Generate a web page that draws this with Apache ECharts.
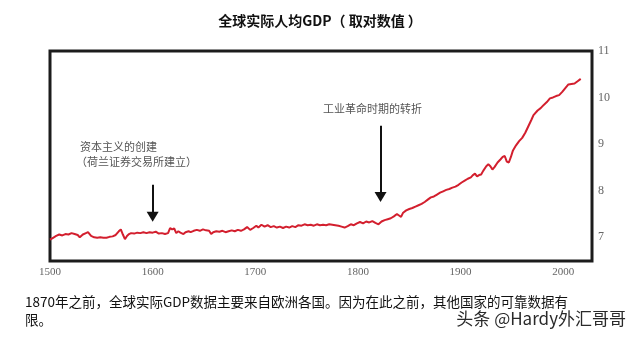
<!DOCTYPE html>
<html>
<head>
<meta charset="utf-8">
<script src="https://cdn.jsdelivr.net/npm/echarts@6/dist/echarts.min.js"></script>
<style>
  html, body { margin: 0; padding: 0; background: #fff; }
  #chart { width: 640px; height: 338px; }
</style>
</head>
<body>
<div id="chart"></div>
<script>
// Year of each observation
const years = [
  1500,1503,1506,1509,1512,1515,1518,1521,1524,1527,1529,1532,1535,1537,1540,1543,1546,1549,
  1552,1555,1558,1561,1564,1567,1569,1571,1573,1575,1577,1579,1582,1585,1588,1591,1594,1597,
  1600,1603,1606,1609,1612,1615,1617,1619,1621,1623,1625,1627,1630,1632,1635,1637,1640,1643,
  1646,1649,1652,1655,1657,1659,1662,1665,1668,1671,1674,1677,1680,1683,1686,1689,1692,1695,
  1698,1701,1703,1706,1709,1712,1715,1718,1721,1724,1727,1730,1733,1736,1739,1742,1745,1748,
  1751,1754,1757,1760,1763,1766,1769,1772,1775,1778,1781,1784,1787,1790,1793,1796,1799,1802,
  1805,1808,1811,1814,1817,1820,1823,1826,1829,1832,1835,1838,1840,1842,1844,1847,1850,1853,
  1856,1859,1862,1865,1868,1871,1874,1877,1880,1883,1886,1889,1892,1895,1898,1901,1904,1907,
  1910,1912,1914,1916,1918,1920,1922,1925,1927,1929,1931,1933,1936,1939,1941,1943,1945,1947,
  1949,1951,1954,1957,1960,1963,1966,1969,1971,1975,1978,1981,1984,1987,1990,1993,1996,1999,
  2002,2005,2008,2011,2014,2017
];

// Log of world real GDP per capita
const logGdp = [
  6.94,6.98,7.02,7.05,7.03,7.06,7.05,7.08,7.06,7.04,6.99,7.05,7.08,7.10,7.02,6.99,6.98,6.99,
  6.98,6.98,7.00,7.01,7.04,7.12,7.16,7.05,6.95,7.02,7.06,7.08,7.07,7.09,7.08,7.10,7.08,7.10,
  7.09,7.11,7.07,7.08,7.06,7.08,7.19,7.16,7.18,7.08,7.12,7.09,7.06,7.10,7.12,7.10,7.13,7.15,
  7.13,7.16,7.14,7.13,7.06,7.10,7.12,7.11,7.13,7.10,7.12,7.14,7.12,7.15,7.13,7.16,7.21,7.15,
  7.19,7.24,7.20,7.26,7.22,7.25,7.21,7.23,7.20,7.22,7.19,7.22,7.20,7.23,7.21,7.25,7.24,7.27,
  7.25,7.26,7.24,7.27,7.25,7.26,7.25,7.27,7.26,7.25,7.24,7.22,7.20,7.23,7.27,7.25,7.29,7.32,
  7.29,7.33,7.31,7.34,7.30,7.27,7.33,7.36,7.38,7.40,7.44,7.49,7.46,7.43,7.52,7.57,7.60,7.62,
  7.65,7.68,7.71,7.75,7.80,7.85,7.87,7.91,7.95,7.98,8.01,8.03,8.06,8.08,8.12,8.17,8.21,8.25,
  8.28,8.33,8.36,8.30,8.33,8.34,8.42,8.52,8.56,8.52,8.45,8.50,8.60,8.67,8.72,8.74,8.62,8.60,
  8.72,8.86,8.97,9.06,9.13,9.24,9.38,9.52,9.62,9.72,9.77,9.84,9.90,9.98,10.00,10.03,10.05,10.12,
  10.20,10.28,10.29,10.30,10.35,10.40
];

// Axis tick labels
const xTicks = [1500, 1600, 1700, 1800, 1900, 2000];
const yTicks = [7, 8, 9, 10, 11];

// Annotation arrows: [year, start value, arrowhead value]
const arrows = [
  [1600, 8.12, 7.43],
  [1822, 9.39, 7.86]
];

const seriesData = years.map((y, i) => [y, logGdp[i]]);

const chart = echarts.init(document.getElementById('chart'), null, { renderer: 'canvas' });

const serif = '"Liberation Serif", "DejaVu Serif", serif';
const cjk = '"Noto Sans CJK SC", "Noto Sans", sans-serif';

chart.setOption({
  animation: false,
  backgroundColor: '#ffffff',
  title: {
    text: '全球实际人均GDP（ 取对数值 ）',
    left: 'center',
    top: 9,
    textStyle: { fontFamily: cjk, fontSize: 14, fontWeight: 'bold', color: '#111' }
  },
  grid: {
    left: 50, right: 48, top: 51, bottom: 77,
    show: true,
    borderColor: '#1c1c1c',
    borderWidth: 3,
    backgroundColor: '#ffffff'
  },
  xAxis: {
    type: 'value',
    min: 1500,
    max: 2028,
    interval: 100,
    axisLine: { show: false },
    axisTick: { show: false },
    splitLine: { show: false },
    axisLabel: {
      customValues: xTicks,
      formatter: v => String(v),
      margin: 6,
      fontFamily: serif,
      fontSize: 11,
      color: '#666'
    }
  },
  yAxis: {
    type: 'value',
    position: 'right',
    min: 6.48,
    max: 11,
    axisLine: { show: false },
    axisTick: { show: false },
    splitLine: { show: false },
    axisLabel: {
      customValues: yTicks,
      formatter: v => String(v),
      margin: 6,
      fontFamily: serif,
      fontSize: 12,
      color: '#666'
    }
  },
  series: [{
    type: 'line',
    data: seriesData,
    showSymbol: false,
    lineStyle: { color: '#d31f2e', width: 2 },
    markLine: {
      silent: true,
      symbol: ['none', 'triangle'],
      symbolSize: [12, 10],
      label: { show: false },
      lineStyle: { color: '#111', width: 2, type: 'solid' },
      data: arrows.map(a => [{ coord: [a[0], a[1]] }, { coord: [a[0], a[2]] }])
    }
  }],
  graphic: [
    {
      type: 'text', left: 80, top: 141,
      style: { text: '资本主义的创建', font: '11px ' + cjk, fill: '#555' }
    },
    {
      type: 'text', left: 76, top: 156,
      style: { text: '（荷兰证券交易所建立）', font: '11px ' + cjk, fill: '#555' }
    },
    {
      type: 'text', left: 323, top: 103,
      style: { text: '工业革命时期的转折', font: '11px ' + cjk, fill: '#555' }
    },
    {
      type: 'text', left: 25, top: 293,
      style: {
        text: '1870年之前，全球实际GDP数据主要来自欧洲各国。因为在此之前，其他国家的可靠数据有\n限。',
        font: '13.5px ' + cjk, fill: '#111', lineHeight: 18
      }
    },
    {
      type: 'text', right: 14, top: 310,
      style: { text: '头条 @Hardy外汇哥哥', font: '17px ' + cjk, fill: '#2a2a2a' }
    }
  ]
});
</script>
</body>
</html>
